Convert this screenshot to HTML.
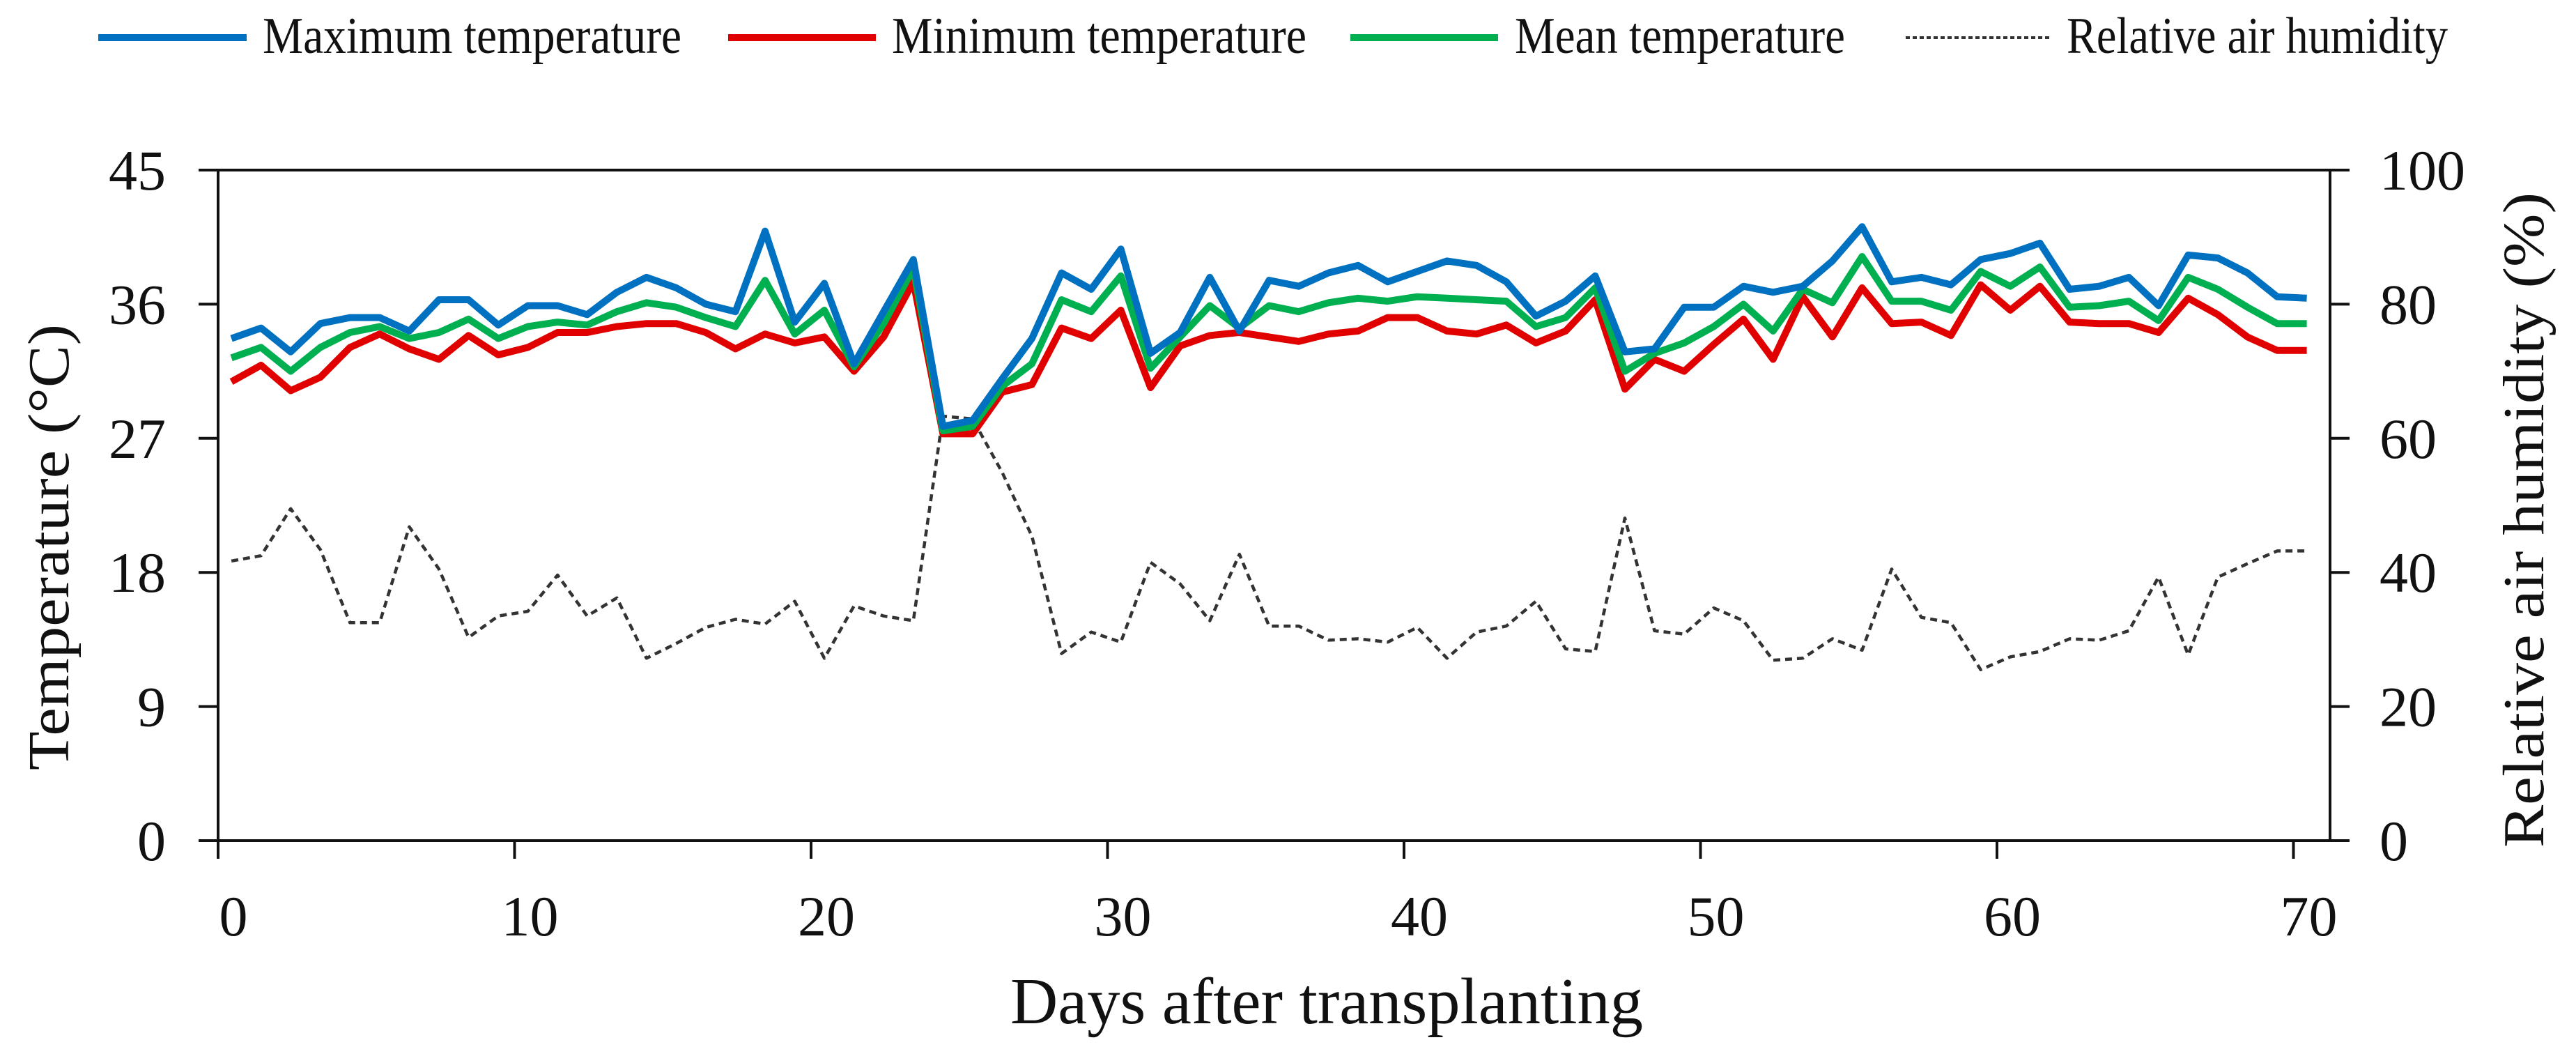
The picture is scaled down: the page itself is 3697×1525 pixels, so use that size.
<!DOCTYPE html>
<html><head><meta charset="utf-8"><style>
html,body{margin:0;padding:0;background:#fff}
svg{display:block}
text{font-family:"Liberation Serif",serif;fill:#111}
</style></head><body>
<svg id="chart" width="3697" height="1525" viewBox="0 0 3697 1525" xmlns="http://www.w3.org/2000/svg">
<g id="legend">
 <g><line x1="141" y1="54" x2="354" y2="54" stroke="#0070C0" stroke-width="10"/><text x="377" y="76" font-size="74" textLength="601" lengthAdjust="spacingAndGlyphs">Maximum temperature</text></g>
 <g><line x1="1045" y1="54" x2="1257" y2="54" stroke="#E00000" stroke-width="10"/><text x="1280" y="76" font-size="74" textLength="595" lengthAdjust="spacingAndGlyphs">Minimum temperature</text></g>
 <g><line x1="1938" y1="54" x2="2150" y2="54" stroke="#00B050" stroke-width="10"/><text x="2174" y="76" font-size="74" textLength="474" lengthAdjust="spacingAndGlyphs">Mean temperature</text></g>
 <g><line x1="2735" y1="54" x2="2943" y2="54" stroke="#333" stroke-width="4" stroke-dasharray="6,4"/><text x="2966" y="76" font-size="74" textLength="547" lengthAdjust="spacingAndGlyphs">Relative air humidity</text></g>
</g>
<g id="axes"></g>
<g id="series"></g>
<text x="1904" y="1468" font-size="94" text-anchor="middle" textLength="908" lengthAdjust="spacingAndGlyphs">Days after transplanting</text>
<text transform="translate(98,785) rotate(-90)" font-size="84" text-anchor="middle" textLength="640" lengthAdjust="spacingAndGlyphs">Temperature (°C)</text>
<text transform="translate(3650,746) rotate(-90)" font-size="84" text-anchor="middle" textLength="940" lengthAdjust="spacingAndGlyphs">Relative air humidity (%)</text>
</svg>
<script>
const days=[];for(let i=0;i<=70;i++)days.push(i);
const maxTemp=[33.7,34.4,32.8,34.7,35.1,35.1,34.2,36.3,36.3,34.6,35.9,35.9,35.3,36.8,37.8,37.1,36.0,35.5,40.9,34.8,37.4,32.0,35.5,39.0,27.8,28.2,31.0,33.7,38.1,37.0,39.7,32.7,34.1,37.8,34.2,37.6,37.2,38.1,38.6,37.5,38.2,38.9,38.6,37.5,35.2,36.2,37.9,32.8,33.0,35.8,35.8,37.2,36.8,37.2,38.9,41.2,37.5,37.8,37.3,39.0,39.4,40.1,37.0,37.2,37.8,35.9,39.3,39.1,38.1,36.5,36.4];
const minTemp=[30.8,31.9,30.2,31.1,33.1,34.0,33.0,32.3,33.9,32.6,33.1,34.1,34.1,34.5,34.7,34.7,34.1,33.0,34.0,33.4,33.8,31.5,33.8,37.5,27.3,27.3,30.1,30.6,34.4,33.7,35.6,30.4,33.2,33.9,34.1,33.8,33.5,34.0,34.2,35.1,35.1,34.2,34.0,34.6,33.4,34.2,36.3,30.3,32.3,31.5,33.3,35.0,32.3,36.5,33.8,37.1,34.7,34.8,33.9,37.3,35.6,37.2,34.8,34.7,34.7,34.1,36.4,35.3,33.8,32.9,32.9];
const meanTemp=[32.4,33.1,31.5,33.1,34.1,34.5,33.7,34.1,35.0,33.7,34.5,34.8,34.6,35.5,36.1,35.8,35.1,34.5,37.6,34.0,35.6,31.8,34.7,38.4,27.5,27.8,30.5,32.0,36.3,35.5,37.9,31.7,33.8,35.9,34.4,35.9,35.5,36.1,36.4,36.2,36.5,36.4,36.3,36.2,34.5,35.1,37.1,31.5,32.7,33.4,34.5,36.0,34.2,37.0,36.1,39.2,36.2,36.2,35.6,38.2,37.2,38.5,35.8,35.9,36.2,34.9,37.8,37.0,35.8,34.7,34.7];
const humidity=[41.7,42.5,49.5,43.4,32.5,32.5,46.8,40.5,30.3,33.5,34.2,39.6,33.5,36.2,27.2,29.4,31.8,33.0,32.3,35.7,27.2,35.0,33.5,32.8,63.3,62.9,54.9,45.4,27.9,31.1,29.6,41.5,38.3,32.8,42.7,32.0,32.0,29.9,30.1,29.6,31.8,27.2,31.1,32.0,35.7,28.6,28.2,48.1,31.3,30.8,34.7,32.8,26.9,27.2,30.1,28.4,40.5,33.3,32.5,25.5,27.4,28.2,30.1,29.9,31.3,39.3,27.7,39.3,41.3,43.2,43.2];
const xTicks=[0,10,20,30,40,50,60,70];
const tempTicks=[0,9,18,27,36,45];
const humTicks=[0,20,40,60,80,100];

const NS="http://www.w3.org/2000/svg";
const L=313,R=3344,T=244,B=1206,DW=42.55,OFF=0.45;
const xAxis=d=>L+d*DW;
const xPt=d=>L+(d+OFF)*DW;
const yT=v=>B-(v/45)*(B-T);
const yH=v=>B-(v/100)*(B-T);
function mk(tag,attrs,parent){const e=document.createElementNS(NS,tag);for(const k in attrs)e.setAttribute(k,attrs[k]);parent.appendChild(e);return e;}
const axes=document.getElementById('axes');
const frame=mk('rect',{x:L,y:T,width:R-L,height:B-T,fill:'none',stroke:'#111','stroke-width':4},axes);


tempTicks.forEach(v=>{
 const y=yT(v);
 const t=mk('line',{x1:L-28,y1:y,x2:L,y2:y,stroke:'#111','stroke-width':4},axes);
 
 
 const tx=mk('text',{x:238,y:y+28,'font-size':82,'text-anchor':'end'},axes);
 tx.textContent=v;
 
 
});
humTicks.forEach(v=>{
 const y=yH(v);
 const t=mk('line',{x1:R,y1:y,x2:R+28,y2:y,stroke:'#111','stroke-width':4},axes);
 
 
 const tx=mk('text',{x:3415,y:y+28,'font-size':82,'text-anchor':'start'},axes);
 tx.textContent=v;
 
 
});
xTicks.forEach(v=>{
 const x=xAxis(v);
 const t=mk('line',{x1:x,y1:B,x2:x,y2:B+26,stroke:'#111','stroke-width':4},axes);
 
 
 const tx=mk('text',{x:x+22,y:1342,'font-size':82,'text-anchor':'middle'},axes);
 tx.textContent=v;
 
 
});
const series=document.getElementById('series');
function line(vals,ys,attrs,name){
 const pts=vals.map((v,i)=>xPt(days[i]).toFixed(1)+','+ys(v).toFixed(1)).join(' ');
 const p=mk('polyline',Object.assign({points:pts,fill:'none','stroke-linejoin':'round'},attrs),series);
 
 
}
line(humidity,yH,{stroke:'#333','stroke-width':4.5,'stroke-dasharray':'10,7'},'humidity-line');
line(minTemp,yT,{stroke:'#E00000','stroke-width':10},'min-temperature-line');
line(meanTemp,yT,{stroke:'#00B050','stroke-width':10},'mean-temperature-line');
line(maxTemp,yT,{stroke:'#0070C0','stroke-width':10},'max-temperature-line');
</script>
</body></html>
